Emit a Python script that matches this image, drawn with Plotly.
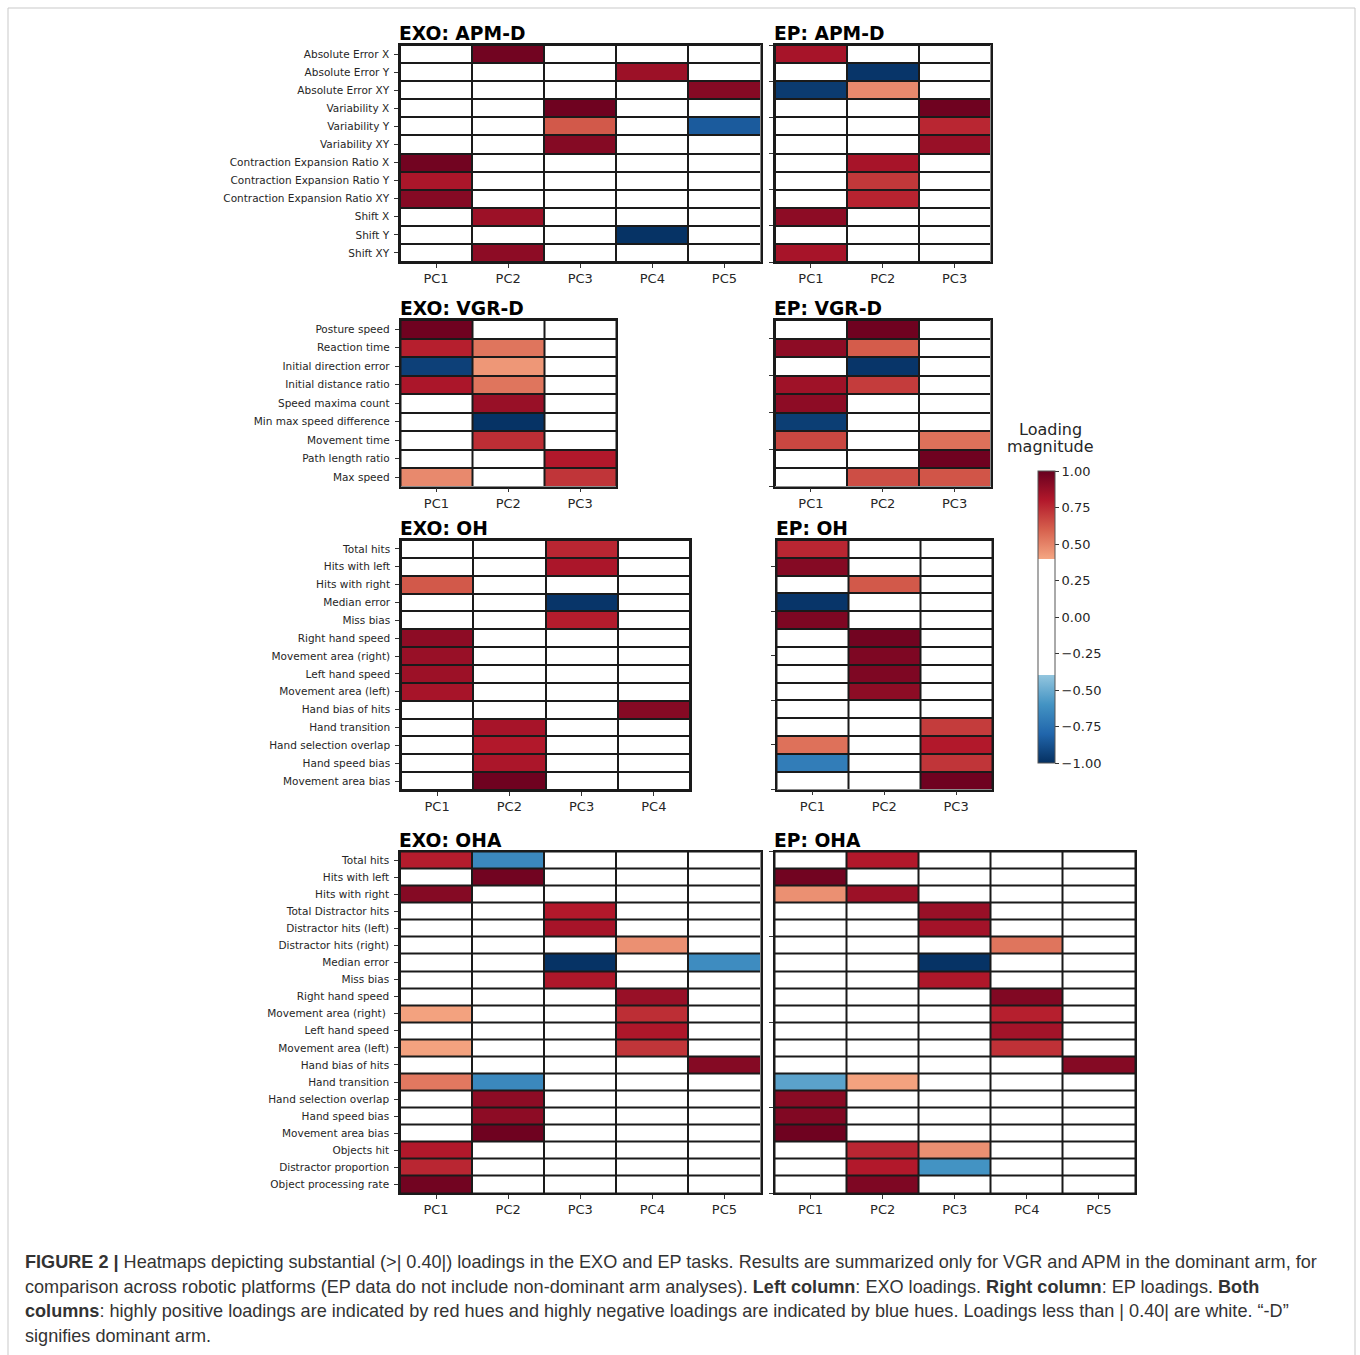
import plotly.graph_objects as go

W, H = 1360, 1355

# ---------------- data ----------------
pcs = ["PC1", "PC2", "PC3", "PC4", "PC5"]

apm_rows = ["Absolute Error X", "Absolute Error Y", "Absolute Error XY",
            "Variability X", "Variability Y", "Variability XY",
            "Contraction Expansion Ratio X", "Contraction Expansion Ratio Y",
            "Contraction Expansion Ratio XY", "Shift X", "Shift Y", "Shift XY"]

vgr_rows = ["Posture speed", "Reaction time", "Initial direction error",
            "Initial distance ratio", "Speed maxima count",
            "Min max speed difference", "Movement time", "Path length ratio",
            "Max speed"]

oh_rows = ["Total hits", "Hits with left", "Hits with right", "Median error",
           "Miss bias", "Right hand speed", "Movement area (right)",
           "Left hand speed", "Movement area (left)", "Hand bias of hits",
           "Hand transition", "Hand selection overlap", "Hand speed bias",
           "Movement area bias"]

oha_rows = ["Total hits", "Hits with left", "Hits with right",
            "Total Distractor hits", "Distractor hits (left)",
            "Distractor hits (right)", "Median error", "Miss bias",
            "Right hand speed", "Movement area (right) ", "Left hand speed",
            "Movement area (left)", "Hand bias of hits", "Hand transition",
            "Hand selection overlap", "Hand speed bias", "Movement area bias",
            "Objects hit", "Distractor proportion", "Object processing rate"]

exo_apm = [
    [0, 0.97, 0, 0, 0],
    [0, 0, 0, 0.86, 0],
    [0, 0, 0, 0, 0.92],
    [0, 0, 0.98, 0, 0],
    [0, 0, 0.62, 0, -0.84],
    [0, 0, 0.92, 0, 0],
    [0.97, 0, 0, 0, 0],
    [0.82, 0, 0, 0, 0],
    [0.92, 0, 0, 0, 0],
    [0, 0.86, 0, 0, 0],
    [0, 0, 0, -0.99, 0],
    [0, 0.90, 0, 0, 0],
]

ep_apm = [
    [0.83, 0, 0],
    [0, -0.98, 0],
    [-0.96, 0.48, 0],
    [0, 0, 0.98],
    [0, 0, 0.76],
    [0, 0, 0.87],
    [0, 0.83, 0],
    [0, 0.71, 0],
    [0, 0.77, 0],
    [0.90, 0, 0],
    [0, 0, 0],
    [0.83, 0, 0],
]

exo_vgr = [
    [0.98, 0, 0],
    [0.78, 0.54, 0],
    [-0.94, 0.44, 0],
    [0.82, 0.54, 0],
    [0, 0.87, 0],
    [0, -0.99, 0],
    [0, 0.74, 0],
    [0, 0, 0.80],
    [0.48, 0, 0.72],
]

ep_vgr = [
    [0, 0.98, 0],
    [0.90, 0.61, 0],
    [0, -0.98, 0],
    [0.85, 0.70, 0],
    [0.90, 0, 0],
    [-0.95, 0, 0],
    [0.67, 0, 0.55],
    [0, 0, 0.98],
    [0, 0.65, 0.63],
]

exo_oh = [
    [0, 0, 0.76, 0],
    [0, 0, 0.82, 0],
    [0.62, 0, 0, 0],
    [0, 0, -0.98, 0],
    [0, 0, 0.79, 0],
    [0.90, 0, 0, 0],
    [0.87, 0, 0, 0],
    [0.86, 0, 0, 0],
    [0.83, 0, 0, 0],
    [0, 0, 0, 0.92],
    [0, 0.83, 0, 0],
    [0, 0.80, 0, 0],
    [0, 0.82, 0, 0],
    [0, 0.98, 0, 0],
]

ep_oh = [
    [0.76, 0, 0],
    [0.92, 0, 0],
    [0, 0.62, 0],
    [-0.98, 0, 0],
    [0.94, 0, 0],
    [0, 0.97, 0],
    [0, 0.94, 0],
    [0, 0.94, 0],
    [0, 0.90, 0],
    [0, 0, 0],
    [0, 0, 0.70],
    [0.55, 0, 0.80],
    [-0.70, 0, 0.72],
    [0, 0, 0.98],
]

exo_oha = [
    [0.79, -0.65, 0, 0, 0],
    [0, 0.97, 0, 0, 0],
    [0.92, 0, 0, 0, 0],
    [0, 0, 0.80, 0, 0],
    [0, 0, 0.83, 0, 0],
    [0, 0, 0, 0.46, 0],
    [0, 0, -0.99, 0, -0.63],
    [0, 0, 0.81, 0, 0],
    [0, 0, 0, 0.87, 0],
    [0.41, 0, 0, 0.74, 0],
    [0, 0, 0, 0.81, 0],
    [0.41, 0, 0, 0.72, 0],
    [0, 0, 0, 0, 0.92],
    [0.53, -0.65, 0, 0, 0],
    [0, 0.90, 0, 0, 0],
    [0, 0.90, 0, 0, 0],
    [0, 0.98, 0, 0, 0],
    [0.80, 0, 0, 0, 0],
    [0.76, 0, 0, 0, 0],
    [0.97, 0, 0, 0, 0],
]

ep_oha = [
    [0, 0.80, 0, 0, 0],
    [0.97, 0, 0, 0, 0],
    [0.46, 0.86, 0, 0, 0],
    [0, 0, 0.87, 0, 0],
    [0, 0, 0.84, 0, 0],
    [0, 0, 0, 0.54, 0],
    [0, 0, -0.99, 0, 0],
    [0, 0, 0.81, 0, 0],
    [0, 0, 0, 0.93, 0],
    [0, 0, 0, 0.78, 0],
    [0, 0, 0, 0.84, 0],
    [0, 0, 0, 0.73, 0],
    [0, 0, 0, 0, 0.92],
    [-0.54, 0.41, 0, 0, 0],
    [0.91, 0, 0, 0, 0],
    [0.93, 0, 0, 0, 0],
    [0.98, 0, 0, 0, 0],
    [0, 0.76, 0.46, 0, 0],
    [0, 0.80, -0.60, 0, 0],
    [0, 0.94, 0, 0, 0],
]

cbar_ticks = [1.0, 0.75, 0.5, 0.25, 0.0, -0.25, -0.5, -0.75, -1.0]

# ---------------- styling ----------------
FONT = "DejaVu Sans"
TXT = "#262626"
EDGE = "#1a1a1a"

# ColorBrewer RdBu reversed with a white band for |loading| < 0.40
colorscale = [
    [0.00, "#053061"], [0.10, "#2166ac"], [0.20, "#4393c3"], [0.2999, "#92c5de"],
    [0.30, "#ffffff"], [0.70, "#ffffff"],
    [0.7001, "#f4a582"], [0.80, "#d6604d"], [0.90, "#b2182b"], [1.00, "#67001f"],
]

# panel: (title, z, row labels, show labels, box px (x0, y0, x1, y1), EP tick positions)
panels = [
    ("EXO: APM-D", exo_apm, apm_rows, True, (400, 45, 760.5, 262), None),
    ("EP: APM-D", ep_apm, apm_rows, False, (775, 45, 990.5, 262),
     [-0.5, 1.5, 3.5, 5.5, 7.5, 9.5, 11.5]),
    ("EXO: VGR-D", exo_vgr, vgr_rows, True, (400.5, 320, 616, 486.5), None),
    ("EP: VGR-D", ep_vgr, vgr_rows, False, (775, 320, 990.5, 486.5),
     [0.5, 2.5, 4.5, 6.5, 8.5]),
    ("EXO: OH", exo_oh, oh_rows, True, (401, 540, 690, 790), None),
    ("EP: OH", ep_oh, oh_rows, False, (776.5, 540, 992, 789.5),
     [1.0, 3.5, 6.0, 8.5, 11.0, 13.5]),
    ("EXO: OHA", exo_oha, oha_rows, True, (400, 851.5, 760.5, 1193), None),
    ("EP: OHA", ep_oha, oha_rows, False, (774.5, 851.5, 1135, 1193),
     [-0.5, 4.5, 9.5, 14.5, 19.5]),
]

fig = go.Figure()
layout = {}
annotations = []

for i, (title, z, rows, show_labels, box, ep_ticks) in enumerate(panels):
    n = i + 1
    sfx = "" if n == 1 else str(n)
    x0, y0, x1, y1 = box
    nrow, ncol = len(z), len(z[0])
    cols = pcs[:ncol]
    fig.add_trace(go.Heatmap(
        z=z, x=list(range(ncol)), y=list(range(nrow)),
        coloraxis="coloraxis", xgap=2, ygap=2,
        xaxis="x" + sfx, yaxis="y" + sfx,
        customdata=[[r] * ncol for r in rows],
        text=[cols for _ in rows],
        hovertemplate="%{customdata}<br>%{text}: %{z:.2f}<extra></extra>",
    ))
    layout["xaxis" + sfx] = dict(
        domain=[x0 / W, x1 / W], anchor="y" + sfx,
        range=[-0.5, ncol - 0.5], tickmode="array",
        tickvals=list(range(ncol)), ticktext=cols,
        ticks="outside", ticklen=4, tickwidth=1, tickcolor="#333",
        tickfont=dict(family=FONT, size=13, color=TXT),
        showline=True, mirror=True, linecolor=EDGE, linewidth=1.5,
        showgrid=False, zeroline=False, fixedrange=True,
    )
    if show_labels:
        ytick = dict(tickvals=list(range(nrow)), ticktext=rows,
                     showticklabels=True)
    else:
        ytick = dict(tickvals=ep_ticks, ticktext=[""] * len(ep_ticks),
                     showticklabels=False)
    layout["yaxis" + sfx] = dict(
        domain=[1 - y1 / H, 1 - y0 / H], anchor="x" + sfx,
        range=[nrow - 0.5, -0.5], tickmode="array",
        ticks="outside", ticklen=4, tickwidth=1, tickcolor="#333",
        ticklabelstandoff=3,
        tickfont=dict(family=FONT, size=10.5, color=TXT),
        showline=True, mirror=True, linecolor=EDGE, linewidth=1.5,
        showgrid=False, zeroline=False, fixedrange=True, **ytick,
    )
    annotations.append(dict(
        x=x0 / W, y=1 - (y0 + 1) / H, xref="paper", yref="paper",
        xanchor="left", yanchor="bottom", showarrow=False, xshift=-3,
        text="<b>%s</b>" % title,
        font=dict(family=FONT, size=18.7, color="#000"),
    ))

# colorbar title
for txt, yy in (("Loading", 430), ("magnitude", 447)):
    annotations.append(dict(
        x=1050 / W, y=1 - yy / H, xref="paper", yref="paper",
        xanchor="center", yanchor="middle", showarrow=False,
        text=txt, font=dict(family=FONT, size=16, color=TXT),
    ))

# caption
caption_lines = [
    "<b>FIGURE 2 |</b> Heatmaps depicting substantial (>| 0.40|) loadings in the EXO and EP tasks. "
    "Results are summarized only for VGR and APM in the dominant arm, for",
    "comparison across robotic platforms (EP data do not include non-dominant arm analyses). "
    "<b>Left column</b>: EXO loadings. <b>Right column</b>: EP loadings. <b>Both</b>",
    "<b>columns</b>: highly positive loadings are indicated by red hues and highly negative "
    "loadings are indicated by blue hues. Loadings less than | 0.40| are white. \u201c-D\u201d",
    "signifies dominant arm.",
]
for k, line in enumerate(caption_lines):
    annotations.append(dict(
        x=23 / W, y=1 - (1262 + 24.7 * k) / H, xref="paper", yref="paper",
        xanchor="left", yanchor="middle", showarrow=False, align="left",
        text=line,
        font=dict(family="Liberation Sans", size=18.1, color="#333"),
    ))

tick_txt = [("\u2212%.2f" % abs(t)) if t < 0 else "%.2f" % t for t in cbar_ticks]

fig.update_layout(
    width=W, height=H,
    margin=dict(l=0, r=0, t=0, b=0),
    paper_bgcolor="white", plot_bgcolor=EDGE,
    font=dict(family=FONT, color=TXT),
    showlegend=False,
    coloraxis=dict(
        colorscale=colorscale, cmin=-1, cmax=1,
        colorbar=dict(
            x=1038 / W, xanchor="left", xpad=0,
            y=1 - 617 / H, yanchor="middle", ypad=0,
            len=292, lenmode="pixels", thickness=17, thicknessmode="pixels",
            tickmode="array", tickvals=cbar_ticks, ticktext=tick_txt,
            ticks="outside", ticklen=4, tickwidth=1, tickcolor="#333",
            tickfont=dict(family=FONT, size=13, color=TXT),
            outlinewidth=1, outlinecolor="#555",
        ),
    ),
    annotations=annotations,
    shapes=[dict(type="rect", xref="paper", yref="paper",
                 x0=8 / W, x1=1355 / W, y0=-0.02, y1=1 - 8 / H,
                 line=dict(color="#c9c9c9", width=1), fillcolor="rgba(0,0,0,0)",
                 layer="below")],
    **layout,
)

fig.write_html("out.html",
               config={"displayModeBar": False},
               post_script="document.body.style.margin='0px';"
                           "document.body.style.overflow='hidden';")
